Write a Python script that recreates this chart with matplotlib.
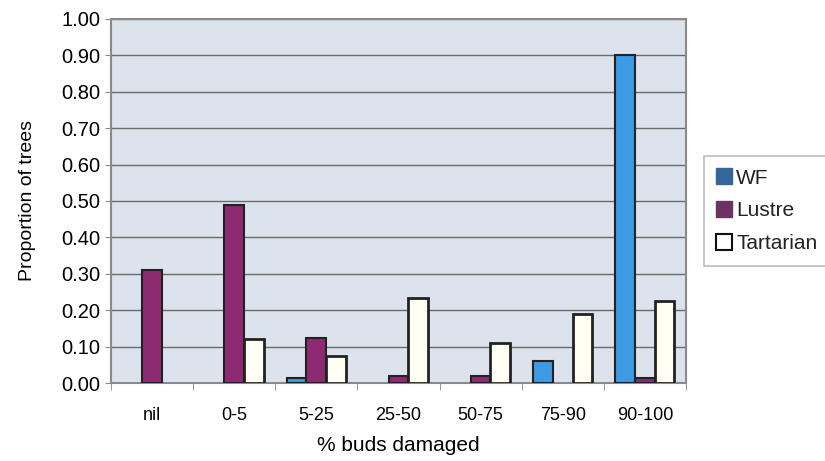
import numpy as np
import matplotlib
matplotlib.use("Agg")
import matplotlib.pyplot as plt
from matplotlib.patches import Patch

plt.rcParams["font.family"] = ["Liberation Sans", "DejaVu Sans"]

# Proportion of trees in each bud-damage class, per variety
categories = ["nil", "0-5", "5-25", "25-50", "50-75", "75-90", "90-100"]
wf = [0.0, 0.0, 0.015, 0.0, 0.0, 0.06, 0.90]
lustre = [0.31, 0.49, 0.125, 0.02, 0.02, 0.0, 0.015]
tartarian = [0.0, 0.12, 0.075, 0.235, 0.11, 0.19, 0.225]
yticks = np.arange(0, 1.01, 0.1)

fig = plt.figure(figsize=(8.25, 4.61), dpi=100)
ax = fig.add_axes([0.1345, 0.169, 0.697, 0.790])

x = np.arange(len(categories))
w = 0.24
bars = []
bars += ax.bar(x - w, wf, w, color="#3d9be3", edgecolor="#222222", linewidth=1.5, zorder=3)
bars += ax.bar(x, lustre, w, color="#8c2a72", edgecolor="#222222", linewidth=1.5, zorder=3)
bars += ax.bar(x + w, tartarian, w, color="#fffff4", edgecolor="#222222", linewidth=2, zorder=3)
# empty classes get no outline
for b in bars:
    if b.get_height() == 0:
        b.set_visible(False)

ax.set_facecolor("#dde3ec")
ax.set_xlim(-0.5, len(categories) - 0.5)
ax.set_ylim(0, 1.0)
ax.set_yticks(yticks)
ax.set_yticklabels([f"{v:.2f}" for v in yticks], fontsize=14.5)
ax.yaxis.grid(True, color="#6a6a6a", linewidth=1.0, zorder=0)

# category labels centred, tick marks at the category boundaries
ax.set_xticks(x)
ax.set_xticklabels(categories, fontsize=13)
ax.tick_params(axis="x", length=0, pad=17)
ax.set_xticks(np.arange(-0.5, len(categories)), minor=True)
ax.tick_params(axis="x", which="minor", length=5, color="#888888")
ax.tick_params(axis="y", length=4, color="#888888")

for side in ["left", "bottom", "right", "top"]:
    ax.spines[side].set_color("#8a8a8a")
    ax.spines[side].set_linewidth(1.5)

ax.set_ylabel("Proportion of trees", fontsize=14, labelpad=18)
ax.set_xlabel("% buds damaged", fontsize=15, labelpad=9)

handles = [Patch(facecolor="#336699", edgecolor="#336699"),
           Patch(facecolor="#6b3362", edgecolor="#6b3362"),
           Patch(facecolor="white", edgecolor="#111111", linewidth=1.5)]
leg = fig.legend(handles, ["WF", "Lustre", "Tartarian"], loc="upper left",
                 bbox_to_anchor=(0.853, 0.662), fontsize=15, frameon=True,
                 fancybox=False, handlelength=0.75, handleheight=0.8,
                 handletextpad=0.2, borderpad=0.6, labelspacing=0.65,
                 borderaxespad=0)
leg.get_frame().set_edgecolor("#aaaaaa")
leg.get_frame().set_linewidth(1.2)
for t in leg.get_texts():
    t.set_color("#222222")

fig.savefig("out.png", dpi=100)
